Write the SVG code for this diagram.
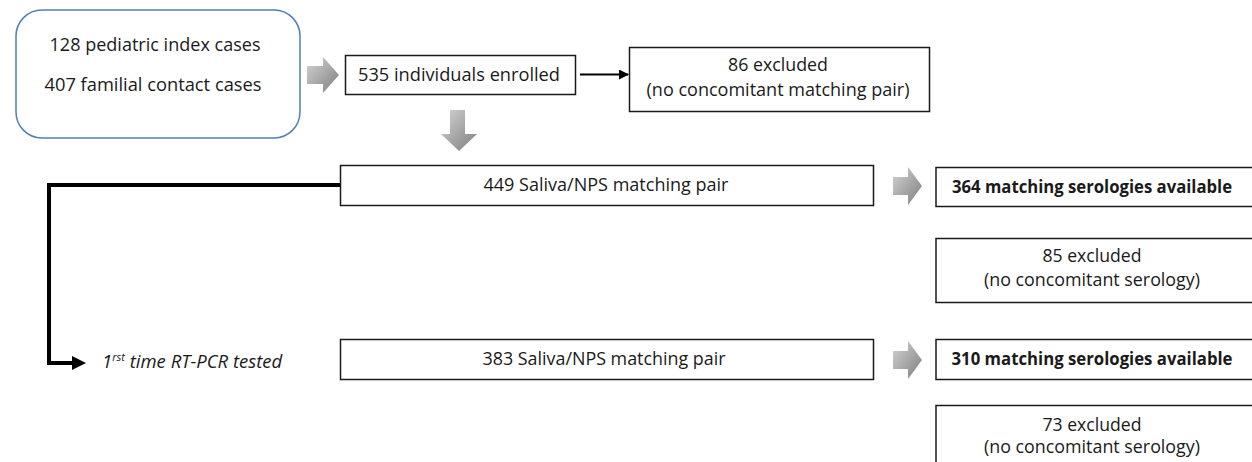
<svg xmlns="http://www.w3.org/2000/svg" width="1252" height="462" viewBox="0 0 1252 462">
<style>
  .box{fill:#ffffff;stroke:#1a1a1a;stroke-width:1.5}
  .rbox{fill:#ffffff;stroke:#4f7fb5;stroke-width:1.5}
  .t{font-family:"Open Sans","Noto Sans","Liberation Sans",sans-serif;font-size:17.5px;fill:#1a1a1a;text-anchor:middle}
  .b{font-weight:bold}
  .it{font-family:"Open Sans","Noto Sans","Liberation Sans",sans-serif;font-size:18.5px;font-style:italic;fill:#1a1a1a}
  .sup{font-size:11px}
  .blk{fill:none;stroke:#000000}
  .garrow{fill:url(#g);stroke:none}
</style>
<defs>
  <linearGradient id="g" x1="0" y1="0" x2="1" y2="1">
    <stop offset="0" stop-color="#d4d4d4"/>
    <stop offset="1" stop-color="#7e7e7e"/>
  </linearGradient>
  <marker id="ah" markerWidth="10" markerHeight="10" refX="9" refY="5" orient="auto" markerUnits="userSpaceOnUse">
    <path d="M0,0 L10,5 L0,10 Z" fill="#000"/>
  </marker>
</defs>
<rect width="1252" height="462" fill="#ffffff"/>

<g id="start">
  <rect class="rbox" x="16" y="10" width="284" height="128" rx="26" ry="26"/>
  <text class="t" x="155" y="51" textLength="211" lengthAdjust="spacingAndGlyphs">128 pediatric  index cases</text>
  <text class="t" x="153" y="91" textLength="217" lengthAdjust="spacingAndGlyphs">407 familial contact cases</text>
</g>

<g id="enrolled">
  <rect class="box" x="345.5" y="55.5" width="230" height="39"/>
  <text class="t" x="459" y="81" textLength="202" lengthAdjust="spacingAndGlyphs">535 individuals enrolled</text>
</g>

<g id="excluded86">
  <rect class="box" x="629.5" y="47.5" width="300" height="64"/>
  <text class="t" x="778" y="71" textLength="100" lengthAdjust="spacingAndGlyphs">86 excluded</text>
  <text class="t" x="778" y="96" textLength="263" lengthAdjust="spacingAndGlyphs">(no concomitant matching pair)</text>
</g>

<g id="pair449">
  <rect class="box" x="340.5" y="165.5" width="533" height="40"/>
  <text class="t" x="606" y="191" textLength="245" lengthAdjust="spacingAndGlyphs">449 Saliva/NPS matching pair</text>
</g>

<g id="sero364">
  <rect class="box" x="936" y="167.5" width="330" height="39"/>
  <text class="t b" x="1092" y="193" textLength="280" lengthAdjust="spacingAndGlyphs">364 matching  serologies available</text>
</g>

<g id="excluded85">
  <rect class="box" x="936" y="238.5" width="330" height="64"/>
  <text class="t" x="1092" y="262" textLength="99" lengthAdjust="spacingAndGlyphs">85 excluded</text>
  <text class="t" x="1092" y="286" textLength="216" lengthAdjust="spacingAndGlyphs">(no concomitant serology)</text>
</g>

<g id="rtpcr">
  <text class="it" x="102" y="368">1<tspan class="sup" dy="-7">rst</tspan><tspan dy="7"> time  RT-PCR tested</tspan></text>
</g>

<g id="pair383">
  <rect class="box" x="340.5" y="339.5" width="533" height="40"/>
  <text class="t" x="604" y="365" textLength="243" lengthAdjust="spacingAndGlyphs">383 Saliva/NPS matching pair</text>
</g>

<g id="sero310">
  <rect class="box" x="936" y="339.5" width="330" height="40"/>
  <text class="t b" x="1092" y="365" textLength="281" lengthAdjust="spacingAndGlyphs">310 matching  serologies available</text>
</g>

<g id="excluded73">
  <rect class="box" x="936" y="405.5" width="330" height="70"/>
  <text class="t" x="1092" y="431" textLength="99" lengthAdjust="spacingAndGlyphs">73 excluded</text>
  <text class="t" x="1092" y="453" textLength="216" lengthAdjust="spacingAndGlyphs">(no concomitant serology)</text>
</g>

<g id="connectors">
  <polygon class="garrow" points="307,66 323,66 323,57 339,75 323,93 323,84 307,84"/>
  <polygon class="garrow" points="450,110 465,110 465,134 477,134 459,151 441,134 450,134"/>
  <polygon class="garrow" points="893,177 908,177 908,167 922,186 908,205 908,195 893,195"/>
  <polygon class="garrow" points="893,351 908,351 908,341 922,360 908,379 908,369 893,369"/>
  <line class="blk" x1="580" y1="74.5" x2="628" y2="74.5" stroke-width="2" marker-end="url(#ah)"/>
  <path class="blk" d="M340,185 H49 V363 H74" stroke-width="4" stroke-linejoin="miter"/>
  <polygon points="72,356 86,363 72,370" fill="#000"/>
</g>
</svg>
